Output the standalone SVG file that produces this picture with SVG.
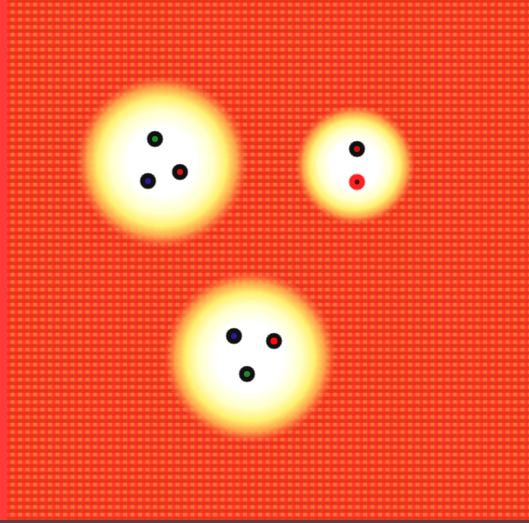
<svg xmlns="http://www.w3.org/2000/svg" width="529" height="523" viewBox="0 0 529 523">
  <defs>
    <pattern id="dither" x="3" y="3" width="7.5" height="7.5" patternUnits="userSpaceOnUse">
      <rect width="7.5" height="7.5" fill="#ff3c36"/>
      <rect x="0" y="0" width="4" height="3.5" fill="#ff7030"/>
      <rect x="4" y="3.5" width="3.5" height="4" fill="#ff2a14"/>
      <rect x="0" y="3.5" width="3.5" height="3" fill="#c84418"/>
    </pattern>
    <radialGradient id="glow" cx="0.5" cy="0.5" r="0.5">
      <stop offset="0" stop-color="#ffffff"/>
      <stop offset="0.4" stop-color="#ffffff"/>
      <stop offset="0.6" stop-color="#ffffc8"/>
      <stop offset="0.75" stop-color="#fff070"/>
      <stop offset="0.87" stop-color="#ffb450" stop-opacity="0.85"/>
      <stop offset="1" stop-color="#ff7040" stop-opacity="0"/>
    </radialGradient>
    <style>
      .ring { fill: #111; stroke: #888; stroke-width: 1.2; stroke-opacity: 0.6; }
    </style>
  </defs>
  <rect width="529" height="523" fill="url(#dither)"/>
  <rect x="0" y="0" width="7" height="520" fill="#ff3a3a"/>
  <rect x="0" y="520" width="529" height="3" fill="#6a3a36"/>

  <g id="glow1"><circle cx="162" cy="162" r="86" fill="url(#glow)"/></g>
  <g id="glow2"><circle cx="355" cy="165" r="60" fill="url(#glow)"/></g>
  <g id="glow3"><circle cx="250" cy="357" r="86" fill="url(#glow)"/></g>

  <g id="dot-green-1"><circle class="ring" cx="155" cy="139" r="8"/><circle cx="155" cy="139" r="3" fill="#1a8c2a"/></g>
  <g id="dot-blue-1"><circle class="ring" cx="148" cy="181" r="8"/><circle cx="148" cy="181" r="3" fill="#2a1a9a"/></g>
  <g id="dot-red-1"><circle class="ring" cx="180" cy="172" r="8"/><circle cx="180" cy="172" r="3" fill="#e01010"/></g>

  <g id="dot-red-2"><circle class="ring" cx="357" cy="149" r="8"/><circle cx="357" cy="149" r="3" fill="#d01010"/></g>
  <g id="dot-red-3"><circle cx="357" cy="182" r="8" fill="#ff2020" stroke="#ff8080" stroke-width="1"/><circle cx="357" cy="182" r="2.5" fill="#401010"/></g>

  <g id="dot-blue-2"><circle class="ring" cx="234" cy="336" r="8"/><circle cx="234" cy="336" r="3" fill="#2a1a9a"/></g>
  <g id="dot-red-4"><circle class="ring" cx="274" cy="341" r="8"/><circle cx="274" cy="341" r="3.5" fill="#ff0a0a"/></g>
  <g id="dot-green-2"><circle class="ring" cx="247" cy="374" r="8"/><circle cx="247" cy="374" r="3" fill="#1a8c2a"/></g>
</svg>
